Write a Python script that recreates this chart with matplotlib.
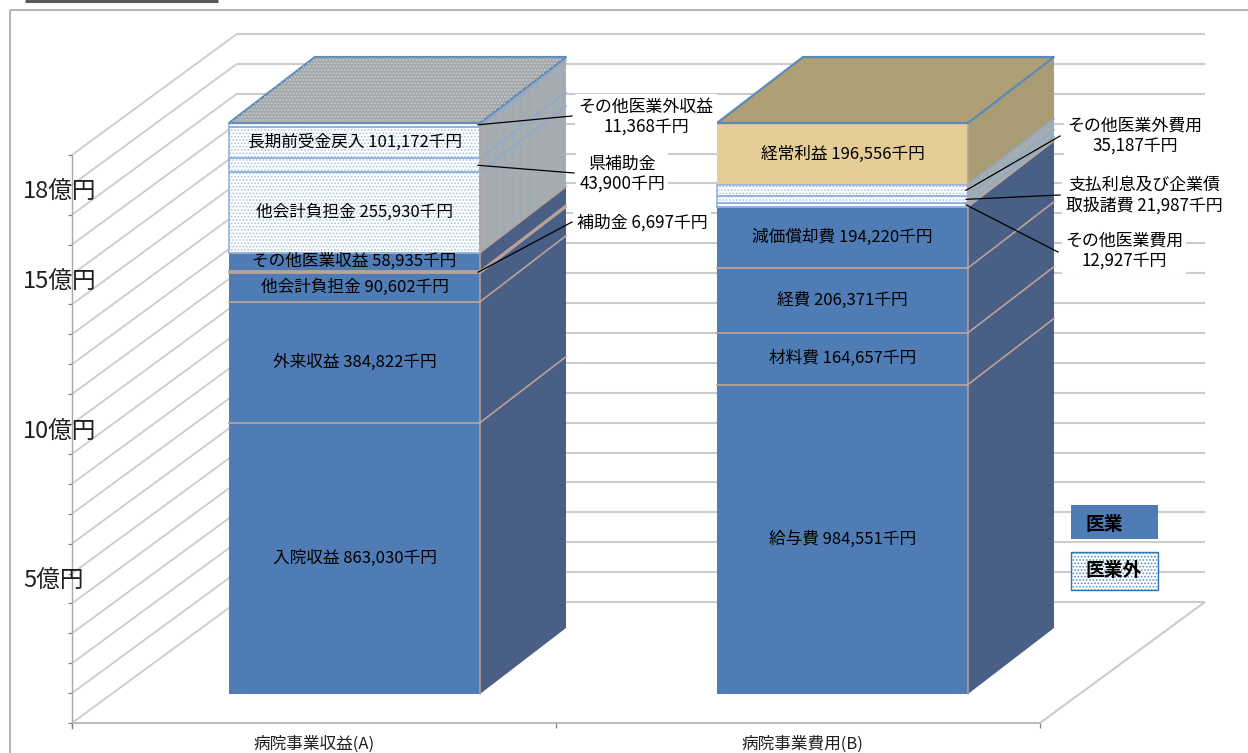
import matplotlib
matplotlib.use("Agg")
import matplotlib.pyplot as plt
from matplotlib.patches import Polygon, Rectangle

plt.rcParams['font.family'] = ['Noto Sans CJK JP', 'DejaVu Sans']
plt.rcParams['hatch.linewidth'] = 0.8

# values in thousand yen, bottom to top
rev_names = ['入院収益', '外来収益', '他会計負担金', '補助金', 'その他医業収益',
             '他会計負担金', '県補助金', '長期前受金戻入', 'その他医業外収益']
rev_values = [863030, 384822, 90602, 6697, 58935, 255930, 43900, 101172, 11368]
rev_kinds = ['med', 'med', 'med', 'sub', 'med', 'ext', 'ext', 'ext', 'ext']

cost_names = ['給与費', '材料費', '経費', '減価償却費', 'その他医業費用',
              '支払利息及び企業債\n取扱諸費', 'その他医業外費用', '経常利益']
cost_values = [984551, 164657, 206371, 194220, 12927, 21987, 35187, 196556]
cost_kinds = ['med', 'med', 'med', 'med', 'ext', 'ext', 'ext', 'profit']

categories = ['病院事業収益(A)', '病院事業費用(B)']
axis_labels = ['5億円', '10億円', '15億円', '18億円']
axis_values = [5, 10, 15, 18]
grid_oku = list(range(20))

# layout, all in pixels of the 1248x753 picture
W, H = 1248, 753
BAR_Y0 = 694
PX_PER_K = 571 / 1816556
CAT_X = [354.5, 842.5]
PX_PER_CAT = 488
BAR_W = 251
DX, DY = 86, -66
WALL_Y0, WALL_STEP = 723, 29.9
WALL_X0, WALL_X1 = 72, 1040
WALL_DX, WALL_DY = 165, -121

FRONT = {'med': '#4f7cb5', 'sub': '#c09a80', 'ext': '#ffffff', 'profit': '#e5cd98'}
SIDE = {'med': '#4a5f86', 'sub': '#ad957f', 'ext': '#a6adb2', 'profit': '#a99b73'}
TOP = {'ext': '#a5a9ac', 'profit': '#ae9f75'}
SEP = '#b9a39a'
GRID = '#cccccc'

fig = plt.figure(figsize=(W / 100, H / 100), dpi=100)
ax = fig.add_axes([0, 0, 1, 1])
ax.set_xlim((0 - CAT_X[0]) / PX_PER_CAT, (W - CAT_X[0]) / PX_PER_CAT)
ax.set_ylim((BAR_Y0 - H) / PX_PER_K, BAR_Y0 / PX_PER_K)
ax.axis('off')


def px(x, y):
    # picture pixel -> data coordinates
    return (x - CAT_X[0]) / PX_PER_CAT, (BAR_Y0 - y) / PX_PER_K


def dpx(x, y):
    return x / PX_PER_CAT, -y / PX_PER_K


def poly(points, **kw):
    ax.add_patch(Polygon(points, closed=True, **kw))


def line(p0, p1, **kw):
    ax.plot(*zip(px(*p0), px(*p1)), solid_capstyle='butt', **kw)


# walls and floor
for n in grid_oku:
    y = WALL_Y0 - n * WALL_STEP
    line((WALL_X0, y), (WALL_X0 + WALL_DX, y + WALL_DY), color=GRID, lw=1.3, zorder=1)
    line((WALL_X0 + WALL_DX, y + WALL_DY), (WALL_X1 + WALL_DX, y + WALL_DY), color=GRID, lw=1.5, zorder=1)
    line((WALL_X0 - 4, y), (WALL_X0, y), color='#808080', lw=0.9, zorder=1)
line((WALL_X0, WALL_Y0 - grid_oku[-1] * WALL_STEP), (WALL_X0, WALL_Y0 + 6), color='#a8a8a8', lw=1, zorder=1)
line((WALL_X0, WALL_Y0), (WALL_X1, WALL_Y0), color='#bdbdbd', lw=1.5, zorder=1)
line((WALL_X1, WALL_Y0), (WALL_X1 + WALL_DX, WALL_Y0 + WALL_DY), color='#cccccc', lw=1.5, zorder=1)
for tick_x in (WALL_X0, 556, WALL_X1):
    line((tick_x, WALL_Y0), (tick_x, WALL_Y0 + 5), color='#808080', lw=0.9, zorder=1)

# outer frame, and the clipped heading above it
line((10, 10), (W, 10), color='#a6a6a6', lw=1.2, zorder=1)
line((10, 10), (10, H), color='#a6a6a6', lw=1.2, zorder=1)
line((25, 1), (218, 1), color='#303030', lw=2.2, zorder=1, alpha=0.8)

# stacked bars with fake depth
dx, dy = dpx(DX, DY)
half = BAR_W / PX_PER_CAT / 2
labels_inside = {0: {'入院収益', '外来収益', '他会計負担金', 'その他医業収益', '長期前受金戻入'},
                 1: {'給与費', '材料費', '経費', '減価償却費', '経常利益'}}
for i, (names, values, kinds) in enumerate([(rev_names, rev_values, rev_kinds),
                                            (cost_names, cost_values, cost_kinds)]):
    bottom = 0
    for name, value, kind in zip(names, values, kinds):
        top = bottom + value
        l, r = i - half, i + half
        side = [(r, bottom), (r + dx, bottom + dy), (r + dx, top + dy), (r, top)]
        poly(side, fc=SIDE[kind], ec='none', zorder=3)
        line_c = '#8fa9c8' if kind == 'ext' else SEP
        ax.plot([r, r + dx], [top, top + dy], color=line_c, lw=1.2, zorder=3.2)
        if kind == 'ext':
            poly(side, fc='none', ec='#8fa3b8', hatch='||', lw=0, zorder=3.1, alpha=0.35)
        ax.add_patch(Rectangle((l, bottom), r - l, value, fc=FRONT[kind], ec='none', zorder=4))
        if kind == 'ext':
            ax.add_patch(Rectangle((l, bottom), r - l, value, fc='none', ec='#a9c4e4',
                                   hatch='.....', lw=0, zorder=4.1))
            ax.add_patch(Rectangle((l, bottom), r - l, value, fc='none', ec='#8fb4dc', lw=1.2, zorder=4.2))
        else:
            ax.plot([l, r], [top, top], color=line_c, lw=1.3, zorder=4.2)
        bottom = top
    # top face
    kind = kinds[-1]
    l, r = i - half, i + half
    poly([(l, bottom), (r, bottom), (r + dx, bottom + dy), (l + dx, bottom + dy)],
         fc=TOP[kind], ec='#5c8ab8', lw=1.6, zorder=5)
    if kind == 'ext':
        poly([(l, bottom), (r, bottom), (r + dx, bottom + dy), (l + dx, bottom + dy)],
             fc='none', ec='#c8ccd0', hatch='.....', lw=0, zorder=5.1)
    ax.plot([r, r], [0, bottom], color=SEP, lw=1.1, zorder=4.3)

    # labels inside the bars
    bottom = 0
    for name, value in zip(names, values):
        if name in labels_inside[i]:
            ax.text(i, bottom + value / 2, f'{name} {value:,}千円', ha='center', va='center',
                    fontsize=12, color='black', zorder=6)
        bottom += value
    xc, yc = px(CAT_X[i] - 40, 744)
    ax.text(xc, yc, categories[i], ha='center', va='center', fontsize=12, color='#202020')

# value axis labels, a little below their gridlines
for label, v in zip(axis_labels, axis_values):
    x, y = px(23, WALL_Y0 - v * WALL_STEP + 8)
    ax.text(x, y, label, ha='left', va='center', fontsize=17, color='#202020', zorder=6)


def cum_mid(values, idx):
    return sum(values[:idx]) + values[idx] / 2


# callouts: cat, series index, label centre in pixels, leader end in pixels
callouts = [
    (0, 8, (646, 117), (572, 116), f'{rev_names[8]}\n{rev_values[8]:,}千円'),
    (0, 6, (622, 174), (574, 173), f'{rev_names[6]}\n{rev_values[6]:,}千円'),
    (0, 3, (642, 223), (572, 222), f'{rev_names[3]} {rev_values[3]:,}千円'),
    (1, 6, (1135, 136), (1060, 136), f'{cost_names[6]}\n{cost_values[6]:,}千円'),
    (1, 5, (1144, 195), (1060, 195), f'{cost_names[5]} {cost_values[5]:,}千円'),
    (1, 4, (1124, 251), (1058, 252), f'{cost_names[4]}\n{cost_values[4]:,}千円'),
]
for cat, idx, centre, end, text in callouts:
    vals = rev_values if cat == 0 else cost_values
    x0 = cat + half - 2 / PX_PER_CAT
    ex, ey = px(*end)
    ax.plot([x0, ex], [cum_mid(vals, idx), ey], color='black', lw=0.9, zorder=7)
    cx, cy = px(*centre)
    ax.text(cx, cy, text, ha='center', va='center', fontsize=12.2, linespacing=1.22, color='black', zorder=8,
            bbox=dict(fc='white', ec='none', pad=2.5))

# legend boxes
lx, ly = px(1071, 539)
ax.add_patch(Rectangle((lx, ly), 87 / PX_PER_CAT, 34 / PX_PER_K, fc=FRONT['med'], ec='none', zorder=6))
lx2, ly2 = px(1071, 590)
ax.add_patch(Rectangle((lx2, ly2), 87 / PX_PER_CAT, 38 / PX_PER_K, fc='white', ec='#5b8ec9', lw=0,
                       hatch='.....', zorder=6))
ax.add_patch(Rectangle((lx2, ly2), 87 / PX_PER_CAT, 38 / PX_PER_K, fc='none', ec='#2f75b5', lw=1.0, zorder=6.1))
tx, ty = px(1085, 524)
ax.text(tx, ty, '医業', fontsize=13.5, fontweight='bold', va='center', ha='left', zorder=7)
tx, ty = px(1085, 571)
ax.text(tx, ty, '医業外', fontsize=13.5, fontweight='bold', va='center', ha='left', zorder=7)

fig.savefig('out.png', dpi=100, facecolor='white')
plt.close(fig)
